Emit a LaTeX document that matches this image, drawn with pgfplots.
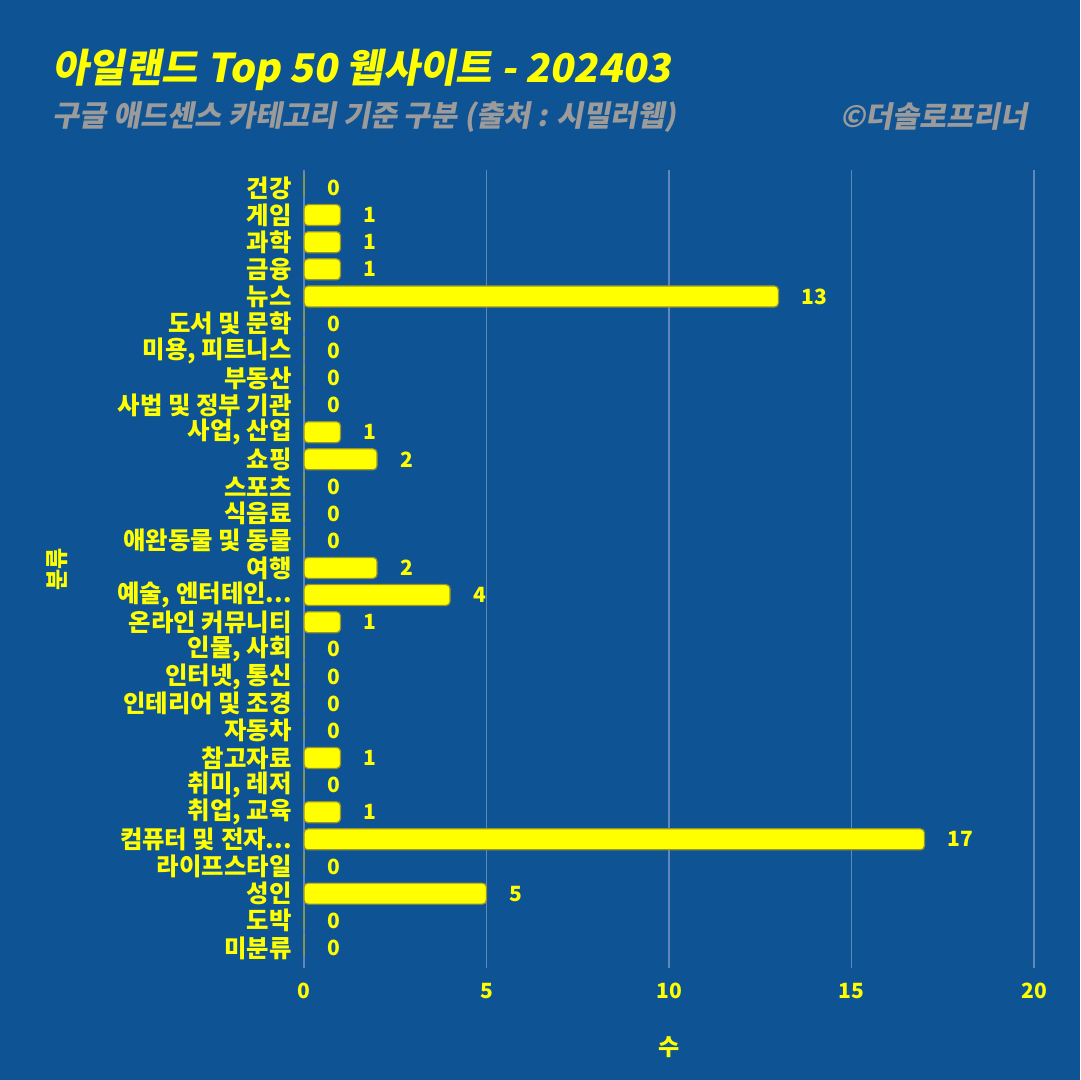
\documentclass[border=0pt]{standalone}
\usepackage{pgfplots}
\pgfplotsset{compat=1.18}
\usepackage{fontspec}
\setmainfont{Noto Sans CJK KR}
\newfontfamily\slantfont{Noto Sans CJK KR}[FakeSlant=0.18]
\definecolor{bg}{RGB}{14,83,148}
\definecolor{ylw}{RGB}{255,255,0}
\definecolor{barline}{RGB}{150,150,40}
\definecolor{gridc}{RGB}{95,135,185}
\definecolor{subgray}{RGB}{155,155,155}
\newcommand{\dd}{{.}{.}{.}}
\pgfplotstableread{
y v
0 0
1 1
2 1
3 1
4 13
5 0
6 0
7 0
8 0
9 1
10 2
11 0
12 0
13 0
14 2
15 4
16 1
17 0
18 0
19 0
20 0
21 1
22 0
23 1
24 17
25 0
26 5
27 0
28 0
}\datatable
\begin{document}
\begin{tikzpicture}
\fill[bg] (0,0) rectangle (540pt,540pt);
\node[anchor=west, text=ylw, font=\slantfont\bfseries\fontsize{19.8}{22}\selectfont, inner sep=0pt] at (26pt,505pt) {아일랜드 Top 50 웹사이트 - 202403};
\node[anchor=west, text=subgray, font=\slantfont\bfseries\fontsize{14.7}{16}\selectfont, inner sep=0pt] at (26pt,481.5pt) {구글 애드센스 카테고리 기준 구분 (출처 : 시밀러웹)};
\node[anchor=east, text=subgray, font=\slantfont\bfseries\fontsize{14.7}{16}\selectfont, inner sep=0pt] at (514pt,481.5pt) {©더솔로프리너};
\begin{axis}[
  at={(152pt,56pt)}, anchor=south west,
  scale only axis, width=365pt, height=399pt,
  xbar, bar width=10.5pt,
  y dir=reverse,
  xmin=0, xmax=20,
  ymin=-0.66, ymax=28.74,
  xtick={0,5,10,15,20},
  ytick={0,1,2,3,4,5,6,7,8,9,10,11,12,13,14,15,16,17,18,19,20,21,22,23,24,25,26,27,28},
  yticklabels={건강,게임,과학,금융,뉴스,도서 및 문학,{미용, 피트니스},부동산,사법 및 정부 기관,{사업, 산업},쇼핑,스포츠,식음료,애완동물 및 동물,여행,{예술, 엔터테인\dd},온라인 커뮤니티,{인물, 사회},{인터넷, 통신},인테리어 및 조경,자동차,참고자료,{취미, 레저},{취업, 교육},컴퓨터 및 전자\dd,라이프스타일,성인,도박,미분류},
  axis line style={draw=none},
  major tick length=0pt,
  xmajorgrids, ymajorgrids=false,
  grid style={gridc, line width=0.9pt},
  /pgf/number format/assume math mode=true,
  xticklabel style={text=ylw, font=\bfseries\fontsize{10.5}{12}\selectfont, yshift=-4pt},
  yticklabel style={text=ylw, font=\bfseries\fontsize{12.2}{13}\selectfont, inner sep=0pt, xshift=-6pt},
  xlabel={수},
  ylabel={분류},
  xlabel style={text=ylw, font=\bfseries\fontsize{11.5}{12}\selectfont, at={(axis description cs:0.5,0)}, anchor=center, yshift=-39.5pt},
  ylabel style={text=ylw, font=\bfseries\fontsize{11.5}{12}\selectfont, at={(axis description cs:-0.338,0.5)}, anchor=center},
  nodes near coords,
  nodes near coords style={text=ylw, font=\bfseries\fontsize{10.5}{12}\selectfont, anchor=west, xshift=8pt},
  point meta=x,
  clip=false,
]
\addplot[fill=ylw, draw=barline, line width=0.6pt, rounded corners=2pt] table[x=v, y=y] {\datatable};
\end{axis}
\end{tikzpicture}
\end{document}
